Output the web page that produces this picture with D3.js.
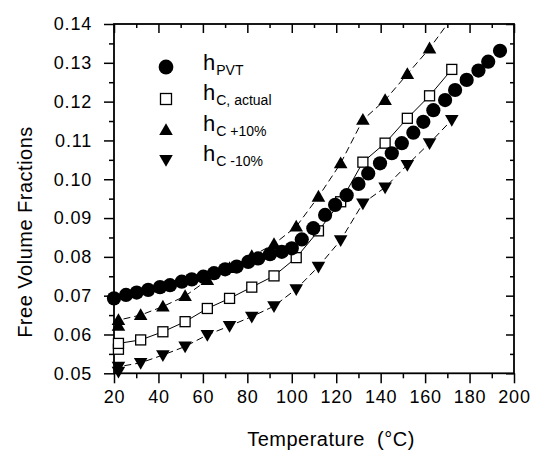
<!DOCTYPE html>
<html>
<head>
<meta charset="utf-8">
<script src="https://cdn.jsdelivr.net/npm/d3@7"></script>
<style>
html,body{margin:0;padding:0;background:#fff;}
svg{display:block;font-family:Arial,"Liberation Sans",Helvetica,sans-serif;}
</style>
</head>
<body>
<svg id="chart" width="535" height="452"></svg>
<script>
// ---- data ----
const tempsPVT = [20,25.4,30.2,35.4,40.7,45.2,50.5,55,60.2,65,70,75.2,80.4,84.9,90.2,95.5,100,
  104.5,109.7,115,119.5,124.7,130,134.4,139.7,145,149.5,154.7,159.2,163.7,169,173.5,178.7,184,188.4,193.7];
const hPVT = [0.0693,0.0702,0.0708,0.0715,0.0722,0.0727,0.0736,0.0742,0.0749,0.0758,0.0768,0.0775,0.0787,0.0796,0.0807,0.0813,0.0822,
  0.0845,0.0874,0.0908,0.0934,0.0959,0.0988,0.1015,0.1041,0.1067,0.1093,0.1120,0.1148,0.1178,0.1204,0.1230,0.1256,0.1280,0.1303,0.1331];

const tempsC = [22,22,32,42,52,62,72,82,92,102,112,122,132,142,152,162,172];
const hCActual = [0.0562,0.0577,0.0586,0.0607,0.0633,0.0667,0.0693,0.0722,0.0751,0.0798,0.0867,0.0942,0.1044,0.1093,0.1157,0.1215,0.1283];
const hCPlus   = [0.0622,0.0637,0.0650,0.0672,0.0699,0.0740,0.0771,0.0802,0.0833,0.0878,0.0955,0.1041,0.1153,0.1204,0.1271,0.1337,null];
const hCMinus  = [0.0504,0.0517,0.0527,0.0547,0.0569,0.0599,0.0622,0.0646,0.0673,0.0717,0.0775,0.0843,0.0938,0.0979,0.1037,0.1093,0.1153];
const plusLineEnd = [170, 0.14];

const xTicks = [20,40,60,80,100,120,140,160,180,200];
const xMinor = [30,50,70,90,110,130,150,170,190];
const yTicks = [0.05,0.06,0.07,0.08,0.09,0.10,0.11,0.12,0.13,0.14];
const yMinor = [0.055,0.065,0.075,0.085,0.095,0.105,0.115,0.125,0.135];

const legendLabels = [
  {main:"h", sub:"PVT", sym:"circle"},
  {main:"h", sub:"C, actual", sym:"square"},
  {main:"h", sub:"C +10%", sym:"up"},
  {main:"h", sub:"C -10%", sym:"down"}
];

// ---- layout ----
const L = 114, R = 514, T = 24, B = 373.3;
const x = d3.scaleLinear().domain([20,200]).range([L,R]);
const y = d3.scaleLinear().domain([0.05,0.14]).range([B,T]);
const svg = d3.select("#chart");

function styleAxis(g){
  g.select(".domain").remove();
  g.selectAll("line").attr("stroke","#000").attr("stroke-width",1.5);
  g.selectAll("text").attr("fill","#000").attr("font-size","18px").attr("letter-spacing","0.8px")
    .attr("font-family","Arial, 'Liberation Sans', sans-serif");
}
const fmtY = d3.format(".2f");
svg.append("g").attr("transform",`translate(0,${B})`)
  .call(d3.axisBottom(x).tickValues(xTicks).tickSize(10).tickPadding(7).tickFormat(d3.format("d"))).call(styleAxis);
svg.append("g").attr("transform",`translate(0,${B})`)
  .call(d3.axisBottom(x).tickValues(xMinor).tickSize(5).tickFormat("")).call(styleAxis);
svg.append("g").attr("transform",`translate(${L},0)`)
  .call(d3.axisLeft(y).tickValues(yTicks).tickSize(10).tickPadding(12).tickFormat(fmtY)).call(styleAxis);
svg.append("g").attr("transform",`translate(${L},0)`)
  .call(d3.axisLeft(y).tickValues(yMinor).tickSize(5).tickFormat("")).call(styleAxis);
svg.append("g").attr("transform",`translate(0,${T})`)
  .call(d3.axisBottom(x).tickValues(xTicks).tickSize(9).tickFormat("")).call(styleAxis);
svg.append("g").attr("transform",`translate(0,${T})`)
  .call(d3.axisBottom(x).tickValues(xMinor).tickSize(4).tickFormat("")).call(styleAxis);
svg.append("g").attr("transform",`translate(${R},0)`)
  .call(d3.axisLeft(y).tickValues(yTicks).tickSize(8).tickFormat("")).call(styleAxis);
svg.append("g").attr("transform",`translate(${R},0)`)
  .call(d3.axisLeft(y).tickValues(yMinor).tickSize(4).tickFormat("")).call(styleAxis);

// frame
svg.append("rect").attr("x",L).attr("y",T).attr("width",R-L).attr("height",B-T)
  .attr("fill","none").attr("stroke","#000").attr("stroke-width",1.8);

svg.append("clipPath").attr("id","clip").append("rect").attr("x",L).attr("y",T).attr("width",R-L).attr("height",B-T);
const plot = svg.append("g");

const line = d3.line().defined(d=>d[1]!=null).x(d=>x(d[0])).y(d=>y(d[1]));
const zip = (a,b)=>a.map((v,i)=>[v,b[i]]);

const plusPts = zip(tempsC,hCPlus).filter(d=>d[1]!=null);
plot.append("path").attr("d",line(plusPts.concat([plusLineEnd]))).attr("clip-path","url(#clip)")
  .attr("fill","none").attr("stroke","#000").attr("stroke-width",1).attr("stroke-dasharray","7,4");
plot.append("path").attr("d",line(zip(tempsC,hCMinus))).attr("clip-path","url(#clip)")
  .attr("fill","none").attr("stroke","#000").attr("stroke-width",1).attr("stroke-dasharray","7,4");
plot.append("path").attr("d",line(zip(tempsC,hCActual))).attr("clip-path","url(#clip)")
  .attr("fill","none").attr("stroke","#000").attr("stroke-width",1);

const triUp = d3.symbol().type(d3.symbolTriangle).size(80);
plot.selectAll(".up").data(plusPts).join("path")
  .attr("d",triUp).attr("transform",d=>`translate(${x(d[0])},${y(d[1])+1})`).attr("fill","#000");
plot.selectAll(".dn").data(zip(tempsC,hCMinus)).join("path")
  .attr("d",triUp).attr("transform",d=>`translate(${x(d[0])},${y(d[1])-1}) rotate(180)`).attr("fill","#000");
plot.selectAll(".sq").data(zip(tempsC,hCActual)).join("rect")
  .attr("x",d=>x(d[0])-5).attr("y",d=>y(d[1])-5).attr("width",10).attr("height",10)
  .attr("fill","#fff").attr("stroke","#000").attr("stroke-width",1.3);
plot.selectAll(".ci").data(zip(tempsPVT,hPVT)).join("circle")
  .attr("cx",d=>x(d[0])).attr("cy",d=>y(d[1])).attr("r",7.1).attr("fill","#000");

// legend
const legY = [67,99,130,160];
const lg = svg.append("g");
legendLabels.forEach((d,i)=>{
  const cx = 166, cy = legY[i];
  if(d.sym==="circle") lg.append("circle").attr("cx",cx).attr("cy",cy).attr("r",7.4).attr("fill","#000");
  else if(d.sym==="square") lg.append("rect").attr("x",cx-5.5).attr("y",cy-5.5).attr("width",11).attr("height",11)
    .attr("fill","#fff").attr("stroke","#000").attr("stroke-width",1.3);
  else if(d.sym==="up") lg.append("path").attr("d",triUp).attr("transform",`translate(${cx},${cy+1})`).attr("fill","#000");
  else lg.append("path").attr("d",triUp).attr("transform",`translate(${cx},${cy-1}) rotate(180)`).attr("fill","#000");
  const t = lg.append("text").attr("x",203).attr("y",[70,100,131,161][i]).attr("font-size","22px").attr("fill","#000");
  t.append("tspan").text(d.main);
  t.append("tspan").attr("font-size","14px").attr("dy",5).attr("dx",1).text(d.sub);
});

// axis titles
svg.append("text").attr("x",331).attr("y",446).attr("text-anchor","middle")
  .attr("font-size","20px").attr("letter-spacing","0.5px").attr("fill","#000").text("Temperature\u00a0\u00a0(°C)");
svg.append("text").attr("transform","translate(32,232) rotate(-90)").attr("text-anchor","middle")
  .attr("font-size","20px").attr("letter-spacing","0.5px").attr("fill","#000").text("Free Volume Fractions");
</script>
</body>
</html>
